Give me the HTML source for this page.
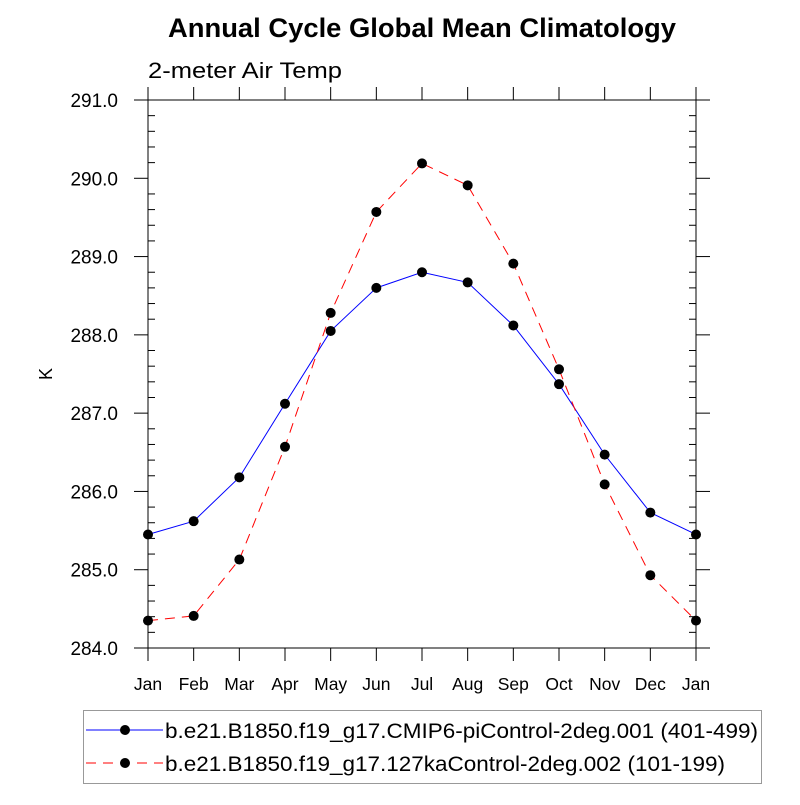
<!DOCTYPE html>
<html><head><meta charset="utf-8"><style>
body{margin:0;background:#fff;font-family:"Liberation Sans",sans-serif}
</style></head><body>
<svg id="chart" width="800" height="800" xmlns="http://www.w3.org/2000/svg" font-family="Liberation Sans, sans-serif">
<text x="168" y="37" font-size="27" font-weight="bold" textLength="508" lengthAdjust="spacingAndGlyphs">Annual Cycle Global Mean Climatology</text>
<text x="148" y="78" font-size="22" textLength="194" lengthAdjust="spacingAndGlyphs">2-meter Air Temp</text>
<text transform="translate(52,374) rotate(-90)" text-anchor="middle" font-size="18">K</text>
<g id="axes"></g>
<g id="series"></g>
<g>
<rect x="83.5" y="710.5" width="678" height="73" fill="none" stroke="#999"/>
<g>
<line x1="86" y1="730" x2="163" y2="730" stroke="#0000ff" stroke-width="1"/>
<circle cx="125" cy="730" r="5" fill="#000"/>
<text x="165" y="738" font-size="21" textLength="593" lengthAdjust="spacingAndGlyphs">b.e21.B1850.f19_g17.CMIP6-piControl-2deg.001 (401-499)</text>
</g>
<g>
<line x1="86" y1="763" x2="163" y2="763" stroke="#ff0000" stroke-width="1" stroke-dasharray="10,7"/>
<circle cx="125" cy="763" r="5" fill="#000"/>
<text x="165" y="771" font-size="21" textLength="560" lengthAdjust="spacingAndGlyphs">b.e21.B1850.f19_g17.127kaControl-2deg.002 (101-199)</text>
</g>
</g>
</svg>
<script>
const months=["Jan","Feb","Mar","Apr","May","Jun","Jul","Aug","Sep","Oct","Nov","Dec","Jan"];
const yTicks=[284,285,286,287,288,289,290,291];
const piControl=[285.45,285.62,286.18,287.12,288.05,288.60,288.80,288.67,288.12,287.37,286.47,285.73,285.45];
const ka127=[284.35,284.41,285.13,286.57,288.28,289.57,290.19,289.91,288.91,287.56,286.09,284.93,284.35];
const NS="http://www.w3.org/2000/svg";
const L=148,R=696,T=100,B=648,ymin=284,ymax=291;
function xs(i){return L+(R-L)*i/(months.length-1);}
function ys(v){return B-(B-T)*(v-ymin)/(ymax-ymin);}
function mk(tag,at,parent){const e=document.createElementNS(NS,tag);for(const k in at)e.setAttribute(k,at[k]);parent.appendChild(e);return e;}
const ax=document.getElementById('axes');
const frame=mk('rect',{x:L,y:T,width:R-L,height:B-T,fill:'none',stroke:'#000','stroke-width':1},ax);


months.forEach((m,i)=>{const x=xs(i);
mk('line',{x1:x,y1:B,x2:x,y2:B+13,stroke:'#000'},ax);
mk('line',{x1:x,y1:T,x2:x,y2:T-13,stroke:'#000'},ax);
const t=mk('text',{x:x,y:B+42,'text-anchor':'middle','font-size':17.5},ax);t.textContent=m;

});
yTicks.forEach(v=>{const y=ys(v);
mk('line',{x1:L,y1:y,x2:L-14,y2:y,stroke:'#000'},ax);
mk('line',{x1:R,y1:y,x2:R+14,y2:y,stroke:'#000'},ax);
const t=mk('text',{x:L-30,y:y+7,'text-anchor':'end','font-size':19},ax);t.textContent=v.toFixed(1);


if(v<ymax)for(let k=1;k<5;k++){const yy=ys(v+k*0.2);
mk('line',{x1:L,y1:yy,x2:L+7,y2:yy,stroke:'#000'},ax);
mk('line',{x1:R,y1:yy,x2:R-7,y2:yy,stroke:'#000'},ax);}});
const sg=document.getElementById('series');
function draw(vals,color,dash,name){
const g=mk('g',{},sg);


const at={points:vals.map((v,i)=>xs(i)+','+ys(v)).join(' '),fill:'none',stroke:color,'stroke-width':1};
if(dash)at['stroke-dasharray']=dash;
mk('polyline',at,g);
vals.forEach((v,i)=>{const c=mk('circle',{cx:xs(i),cy:ys(v),r:5,fill:'#000'},g);

});}
draw(piControl,'#0000ff',null,'series-picontrol');
draw(ka127,'#ff0000','10,7','series-127ka');
</script>
</body></html>
